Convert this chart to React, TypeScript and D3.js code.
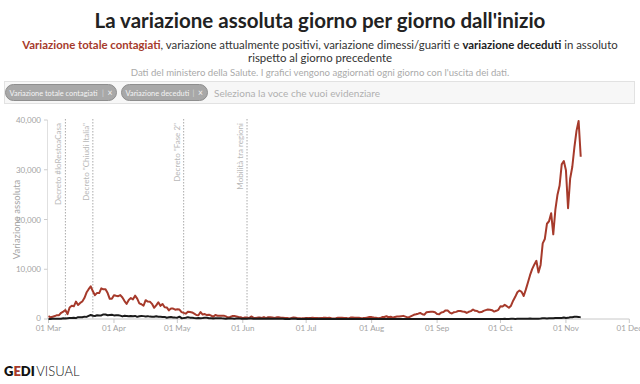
import * as d3 from 'd3';

const START = '2020-03-01';

// variazione totale contagiati, daily from 01 Mar
const casesMar = [566, 342, 466, 587, 769, 778, 1247, 1492, 1797, 977, 2313, 2651, 2547, 3497, 2823, 3233, 3526, 4207, 5322, 5986, 6557, 5560, 4789, 5249, 5210, 6153, 5959, 5974, 5217, 4050, 4053];
const casesApr = [4782, 4668, 4585, 4805, 4316, 3599, 3039, 3836, 4204, 3951, 4694, 4092, 3153, 2972, 2667, 3786, 3493, 3491, 3047, 2256, 2729, 3370, 2646, 3021, 2357, 2324, 1739, 2091, 2086, 1872];
const casesMay = [1965, 1900, 1389, 1221, 1075, 1444, 1401, 1327, 1083, 802, 744, 1402, 888, 992, 789, 875, 675, 451, 813, 665, 642, 652, 669, 531, 300, 397, 584, 593, 516, 416, 355];
const casesJun = [178, 318, 321, 177, 518, 270, 197, 280, 283, 202, 379, 163, 346, 338, 301, 210, 329, 333, 251, 262, 224, 218, 122, 190, 296, 259, 175, 174, 126, 142];
const casesJul = [187, 201, 223, 235, 192, 208, 138, 193, 229, 276, 188, 234, 169, 114, 162, 230, 233, 249, 219, 218, 129, 280, 306, 252, 275, 255, 170, 181, 212, 289, 386];
const casesAug = [379, 295, 239, 159, 190, 384, 402, 552, 347, 463, 259, 412, 481, 523, 574, 629, 479, 320, 403, 642, 845, 947, 1071, 1210, 953, 876, 1367, 1411, 1460, 1444, 1365];
const casesSep = [996, 978, 1326, 1397, 1733, 1695, 1297, 1108, 1370, 1434, 1597, 1616, 1501, 1456, 1229, 1452, 1585, 1907, 1638, 1587, 1350, 1392, 1640, 1786, 1912, 1869, 1766, 1494, 1648, 1851];
const casesOct = [2548, 2499, 2844, 2578, 2257, 2677, 3678, 4458, 5372, 5724, 5456, 4619, 5901, 7332, 8804, 10010, 10925, 11705, 9338, 10874, 15199, 16079, 19143, 19644, 21273, 17012, 21994, 24991, 26831, 31084, 31758];
const casesNov = [29907, 22253, 28244, 30550, 34505, 37809, 39811, 32616];

// variazione deceduti
const deathsMar = [5, 18, 27, 28, 41, 49, 36, 133, 97, 168, 196, 189, 250, 175, 368, 349, 345, 475, 427, 627, 793, 651, 601, 743, 683, 712, 919, 889, 756, 812, 837];
const deathsApr = [727, 760, 766, 681, 525, 636, 604, 542, 610, 570, 619, 431, 566, 602, 578, 525, 575, 482, 433, 454, 534, 437, 464, 420, 415, 260, 333, 382, 323, 285];
const deathsMay = [269, 474, 174, 195, 236, 369, 274, 243, 194, 165, 179, 172, 195, 262, 242, 153, 145, 99, 162, 161, 156, 130, 119, 50, 92, 78, 117, 70, 87, 111, 75];
const deathsJun = [60, 55, 71, 88, 85, 72, 53, 65, 79, 71, 53, 56, 78, 44, 26, 34, 43, 66, 47, 49, 24, 23, 18, 30, 34, 30, 8, 24, 6, 23];
const deathsJul = [30, 21, 30, 21, 7, 8, 30, 15, 12, 12, 7, 9, 13, 17, 13, 20, 11, 13, 12, 3, 15, 9, 10, 5, 5, 4, 5, 11, 6, 11, 3];
const deathsAug = [5, 4, 8, 6, 10, 6, 3, 3, 2, 9, 3, 10, 6, 9, 3, 4, 7, 7, 6, 6, 9, 3, 4, 7, 4, 13, 13, 9, 5, 1, 4];
const deathsSep = [6, 6, 6, 10, 10, 7, 11, 10, 10, 10, 9, 6, 7, 7, 9, 9, 10, 10, 24, 15, 14, 14, 20, 18, 17, 20, 17, 11, 15, 20];
const deathsOct = [24, 23, 27, 18, 16, 28, 31, 22, 28, 29, 26, 39, 41, 43, 83, 55, 47, 69, 73, 89, 127, 136, 91, 151, 128, 141, 221, 205, 217, 199, 297];
const deathsNov = [208, 233, 353, 352, 445, 446, 425, 331];

const cases = [...casesMar, ...casesApr, ...casesMay, ...casesJun, ...casesJul, ...casesAug, ...casesSep, ...casesOct, ...casesNov];
const deaths = [...deathsMar, ...deathsApr, ...deathsMay, ...deathsJun, ...deathsJul, ...deathsAug, ...deathsSep, ...deathsOct, ...deathsNov];

const yTicks = [0, 10000, 20000, 30000, 40000];
const monthTicks = ['2020-03-01', '2020-04-01', '2020-05-01', '2020-06-01', '2020-07-01', '2020-08-01', '2020-09-01', '2020-10-01', '2020-11-01', '2020-12-01'];
const monthNames = ['Jan', 'Feb', 'Mar', 'Apr', 'May', 'Jun', 'Jul', 'Aug', 'Sep', 'Oct', 'Nov', 'Dec'];

const events = [
  { date: '2020-03-09', label: 'Decreto #IoRestoaCasa' },
  { date: '2020-03-22', label: 'Decreto "Chiudi Italia"' },
  { date: '2020-05-04', label: 'Decreto "Fase 2"' },
  { date: '2020-06-03', label: 'Mobilità tra regioni' },
];

const RED = '#a63a2b';
const FONT = 'Lato, "Noto Sans", sans-serif';
const GRAY = '#a3a3a3';

const parse = (s: string) => new Date(s + 'T00:00:00Z');

export default function App() {
  const start = parse(START);
  const day = (i: number) => d3.utcDay.offset(start, i);

  const x = d3.scaleUtc().domain([parse('2020-03-01'), parse('2020-12-01')]).range([48.5, 629.3]);
  const y = d3.scaleLinear().domain([0, 40000]).range([319, 120]);

  const line = d3.line<number>()
    .x((_, i) => x(day(i)))
    .y(d => y(d));

  return (
    <svg width={640} height={384} style={{ position: 'absolute', left: 0, top: 0, background: '#fff' }} fontFamily={FONT}>
      {/* header */}
      <text x={320} y={28} textAnchor="middle" fontSize={20.5} fontWeight={700} fill="#222">
        La variazione assoluta giorno per giorno dall'inizio
      </text>
      <text x={320} y={49} textAnchor="middle" fontSize={11.4} fill="#333">
        <tspan fontWeight={700} fill={RED}>Variazione totale contagiati</tspan>
        <tspan>, variazione attualmente positivi, variazione dimessi/guariti e </tspan>
        <tspan fontWeight={700} fill="#222">variazione deceduti</tspan>
        <tspan> in assoluto</tspan>
      </text>
      <text x={320} y={62} textAnchor="middle" fontSize={11.4} fill="#333">rispetto al giorno precedente</text>
      <text x={320} y={76} textAnchor="middle" fontSize={9.6} fill="#aaa">
        Dati del ministero della Salute. I grafici vengono aggiornati ogni giorno con l'uscita dei dati.
      </text>

      {/* selection bar */}
      <rect x={4.5} y={81.5} width={630} height={22} fill="#f7f7f7" stroke="#e2e2e2" />
      <rect x={5.5} y={84.5} width={111} height={16} rx={8} fill="#a8a8a8" stroke="#8e8e8e" />
      <text x={9.5} y={95.5} fontSize={7.4} fill="#f4f4f4">Variazione totale contagiati</text>
      <text x={102} y={95.5} fontSize={7.4} fill="#d8d8d8">|</text>
      <text x={107.5} y={95.5} fontSize={8.5} fill="#f4f4f4">×</text>
      <rect x={121.5} y={84.5} width={86} height={16} rx={8} fill="#a8a8a8" stroke="#8e8e8e" />
      <text x={125.5} y={95.5} fontSize={7.4} fill="#f4f4f4">Variazione deceduti</text>
      <text x={192.5} y={95.5} fontSize={7.4} fill="#d8d8d8">|</text>
      <text x={198} y={95.5} fontSize={8.5} fill="#f4f4f4">×</text>
      <text x={214} y={96.5} fontSize={10} fill="#b0b0b0">Seleziona la voce che vuoi evidenziare</text>

      {/* y axis */}
      <line x1={47.5} x2={47.5} y1={y(40000)} y2={y(0)} stroke="#e0e0e0" />
      {yTicks.map(t => (
        <g key={t}>
          <line x1={44} x2={47.5} y1={y(t)} y2={y(t)} stroke="#ccc" />
          <text x={41} y={y(t) + (t === 0 ? 2 : 3)} textAnchor="end" fontSize={8} fill={GRAY}>{d3.format(',')(t)}</text>
        </g>
      ))}
      <text transform={`translate(20,${(y(0) + y(40000)) / 2}) rotate(-90)`} textAnchor="middle" fontSize={9.5} fill={GRAY}>
        Variazione assoluta
      </text>

      {/* event markers */}
      {events.map(e => {
        const ex = x(parse(e.date));
        return (
          <g key={e.date}>
            <line x1={ex} x2={ex} y1={119} y2={y(0)} stroke="#aaa" strokeDasharray="1.5,1.5" />
            <text transform={`translate(${ex - 4},123) rotate(-90)`} textAnchor="end" fontSize={8} fill="#b8b8b8">
              {e.label}
            </text>
          </g>
        );
      })}

      {/* x axis */}
      <line x1={x(parse('2020-03-01'))} x2={x(parse('2020-12-01'))} y1={y(0)} y2={y(0)} stroke="#c8c8c8" />
      {monthTicks.map(m => {
        const d = parse(m);
        return (
          <g key={m}>
            <line x1={x(d)} x2={x(d)} y1={y(0)} y2={y(0) + 4} stroke="#c8c8c8" />
            <text x={x(d)} y={331} textAnchor="middle" fontSize={8} fill={GRAY}>
              {`01 ${monthNames[d.getUTCMonth()]}`}
            </text>
          </g>
        );
      })}

      {/* series */}
      <path d={line(cases) || ''} fill="none" stroke={RED} strokeWidth={2} strokeLinejoin="round" />
      <path d={line(deaths) || ''} fill="none" stroke="#1a1a1a" strokeWidth={2} strokeLinejoin="round" />

      {/* footer logo */}
      <text x={4} y={376} fontSize={13} fill="#111">
        <tspan fontWeight={800}>G</tspan>
        <tspan fontWeight={800} fill={RED}>E</tspan>
        <tspan fontWeight={800}>DI</tspan>
        <tspan fontWeight={300} dx={1.5}>VISUAL</tspan>
      </text>
    </svg>
  );
}
